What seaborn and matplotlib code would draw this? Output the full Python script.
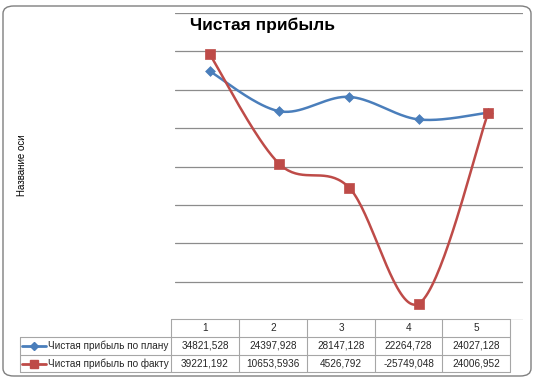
import numpy as np
import pandas as pd
import matplotlib
matplotlib.use("Agg")
import matplotlib.pyplot as plt
import seaborn as sns
from matplotlib.patches import FancyBboxPatch

# data
categories = ["1", "2", "3", "4", "5"]
plan = [34821.528, 24397.928, 28147.128, 22264.728, 24027.128]
fact = [39221.192, 10653.5936, 4526.792, -25749.048, 24006.952]
plan_labels = ["34821,528", "24397,928", "28147,128", "22264,728", "24027,128"]
fact_labels = ["39221,192", "10653,5936", "4526,792", "-25749,048", "24006,952"]
series_names = ["Чистая прибыль по плану", "Чистая прибыль по факту"]

BLUE = "#4a7ebb"
RED = "#be4b48"
W, H = 536, 379


def smooth(xs, ys, n=40):
    # Excel-like smoothed line (Catmull-Rom as cubic Bezier)
    p = np.column_stack([xs, ys]).astype(float)
    pts = [p[0]] + list(p) + [p[-1]]
    out = []
    t = np.linspace(0, 1, n)[:, None]
    for i in range(1, len(pts) - 2):
        p0, p1, p2, p3 = pts[i - 1], pts[i], pts[i + 1], pts[i + 2]
        c1 = p1 + (p2 - p0) / 6
        c2 = p2 - (p3 - p1) / 6
        seg = ((1 - t) ** 3) * p1 + 3 * ((1 - t) ** 2) * t * c1 + 3 * (1 - t) * t ** 2 * c2 + t ** 3 * p2
        out.append(seg if i == 1 else seg[1:])
    out = np.vstack(out)
    return out[:, 0], out[:, 1]


sns.set_style("white")
plt.rcParams['font.family'] = ['Liberation Sans', 'DejaVu Sans']

fig = plt.figure(figsize=(W / 100, H / 100), dpi=100)

# chart border
fig.patches.append(FancyBboxPatch((3 / W, 3 / H), 528 / W, 370 / H,
                                  boxstyle="round,pad=0,rounding_size=0.02",
                                  transform=fig.transFigure, fill=False,
                                  edgecolor="#7f7f7f", linewidth=1.0))

ax = fig.add_axes([175 / W, (H - 320) / H, 348 / W, 307 / H])
x = np.arange(len(categories))
for vals, col, mk, ms in [(plan, BLUE, "D", 5), (fact, RED, "s", 7)]:
    sx, sy = smooth(x, vals)
    sns.lineplot(x=sx, y=sy, ax=ax, color=col, linewidth=1.8, sort=False, estimator=None)
    sns.scatterplot(x=x, y=vals, ax=ax, color=col, marker=mk, s=ms ** 2,
                    edgecolor=col, linewidth=0.5, zorder=5)

ax.set_xlim(-0.5, len(categories) - 0.5)
ax.set_ylim(-30000, 50000)
ax.set_yticks(np.arange(-30000, 50001, 10000))
ax.yaxis.grid(True, color="#8c8c8c", linewidth=0.9)
ax.set_yticklabels([])
ax.set_xticks([])
ax.tick_params(length=0)
for s in ax.spines.values():
    s.set_visible(False)

fig.text(190 / W, 1 - 25 / H, "Чистая прибыль", fontsize=12.5, fontweight="bold",
         ha="left", va="center", color="black")
fig.text(22 / W, 1 - 165 / H, "Название оси", fontsize=7, rotation=90,
         ha="center", va="center", color="black")

# data table
tax = fig.add_axes([0, 0, 1, 1], facecolor="none")
tax.set_xlim(0, W)
tax.set_ylim(H, 0)
tax.axis("off")
cols = [171, 239, 307, 375, 442, 510]
rows = [319, 337, 355, 372]
lc = "#a6a6a6"
tax.plot([cols[0], cols[-1]], [rows[0], rows[0]], color=lc, lw=0.8)
for r in rows[1:]:
    tax.plot([20, cols[-1]], [r, r], color=lc, lw=0.8)
for c in cols:
    tax.plot([c, c], [rows[0], rows[-1]], color=lc, lw=0.8)
tax.plot([20, 20], [rows[1], rows[-1]], color=lc, lw=0.8)

fs = 7.2
tc = "#262626"
for i, cat in enumerate(categories):
    cx = (cols[i] + cols[i + 1]) / 2
    tax.text(cx, (rows[0] + rows[1]) / 2, cat, ha="center", va="center", fontsize=fs, color=tc)
    tax.text(cx, (rows[1] + rows[2]) / 2, plan_labels[i], ha="center", va="center", fontsize=fs, color=tc)
    tax.text(cx, (rows[2] + rows[3]) / 2, fact_labels[i], ha="center", va="center", fontsize=fs, color=tc)

for j, (name, col, mk, ms) in enumerate([(series_names[0], BLUE, "D", 4), (series_names[1], RED, "s", 6)]):
    yy = (rows[j + 1] + rows[j + 2]) / 2
    tax.plot([22, 46], [yy, yy], color=col, lw=2)
    tax.plot([34], [yy], marker=mk, color=col, ms=ms)
    tax.text(48, yy, name, ha="left", va="center", fontsize=fs, color=tc)

fig.savefig("out.png", dpi=100)
